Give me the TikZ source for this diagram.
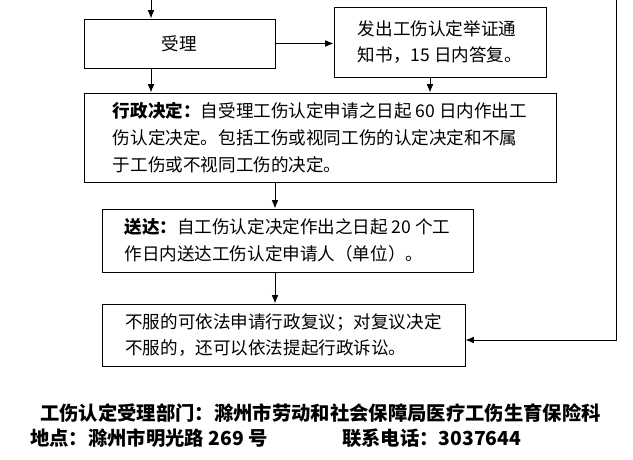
\documentclass[tikz,border=0pt]{standalone}
\usepackage{fontspec}
\setmainfont{Noto Sans CJK SC}
\usetikzlibrary{positioning, arrows.meta}

\begin{document}
\begin{tikzpicture}[x=0.03cm, y=-0.03cm,
    % Styles
    stepbox/.style={draw, thick, align=left, inner sep=0pt, font=\fontsize{15}{23}\selectfont},
    arrow/.style={-{Latex[length=2.5mm,width=2mm]}, thick},
    foot/.style={font=\bfseries\fontsize{16.5}{18}\selectfont, anchor=west},
]
\useasboundingbox (0,0) rectangle (633,460);

% Top
\coordinate (top) at (151,0);
\coordinate (topright) at (616,0);

% Accept
\node[stepbox, minimum width=191*0.03cm, minimum height=49*0.03cm, align=center] (accept) at (179.5,43.5) {受理};
\draw[arrow] (top) -- (accept.north -| top);

% Notice
\node[stepbox, minimum width=212*0.03cm, minimum height=70*0.03cm, align=left] (notice) at (440,42) {发出工伤认定举证通\\知书，15 日内答复。};
\draw[arrow] (accept.east) -- (accept.east -| notice.west);

% Decision
\node[stepbox, minimum width=472*0.03cm, minimum height=89*0.03cm] (decide) at (320,137.5) {\textbf{行政决定：}自受理工伤认定申请之日起 60 日内作出工\\伤认定决定。包括工伤或视同工伤的认定决定和不属\\于工伤或不视同工伤的决定。};
\draw[arrow] (accept.south -| top) -- (decide.north -| top);
\draw[arrow] (notice.south -| 430,0) -- (decide.north -| 430,0);

% Delivery
\node[stepbox, minimum width=371*0.03cm, minimum height=63*0.03cm] (deliver) at (287.5,240.5) {\textbf{送达：}自工伤认定决定作出之日起 20 个工\\作日内送达工伤认定申请人（单位）。};
\draw[arrow] (decide.south -| 275,0) -- (deliver.north -| 275,0);

% Appeal
\node[stepbox, minimum width=363*0.03cm, minimum height=62*0.03cm] (appeal) at (283.5,335) {不服的可依法申请行政复议；对复议决定\\不服的，还可以依法提起行政诉讼。};
\draw[arrow] (deliver.south -| 275,0) -- (appeal.north -| 275,0);
\draw[arrow] (topright) |- (appeal.east |- 0,340);

% Footer
\node[foot] (dept) at (36,413) {工伤认定受理部门：滁州市劳动和社会保障局医疗工伤生育保险科};
\node[foot] (addr) at (26,438) {地点：滁州市明光路 269 号};
\node[foot] (tel) at (338,438) {联系电话：3037644};

\end{tikzpicture}
\end{document}
